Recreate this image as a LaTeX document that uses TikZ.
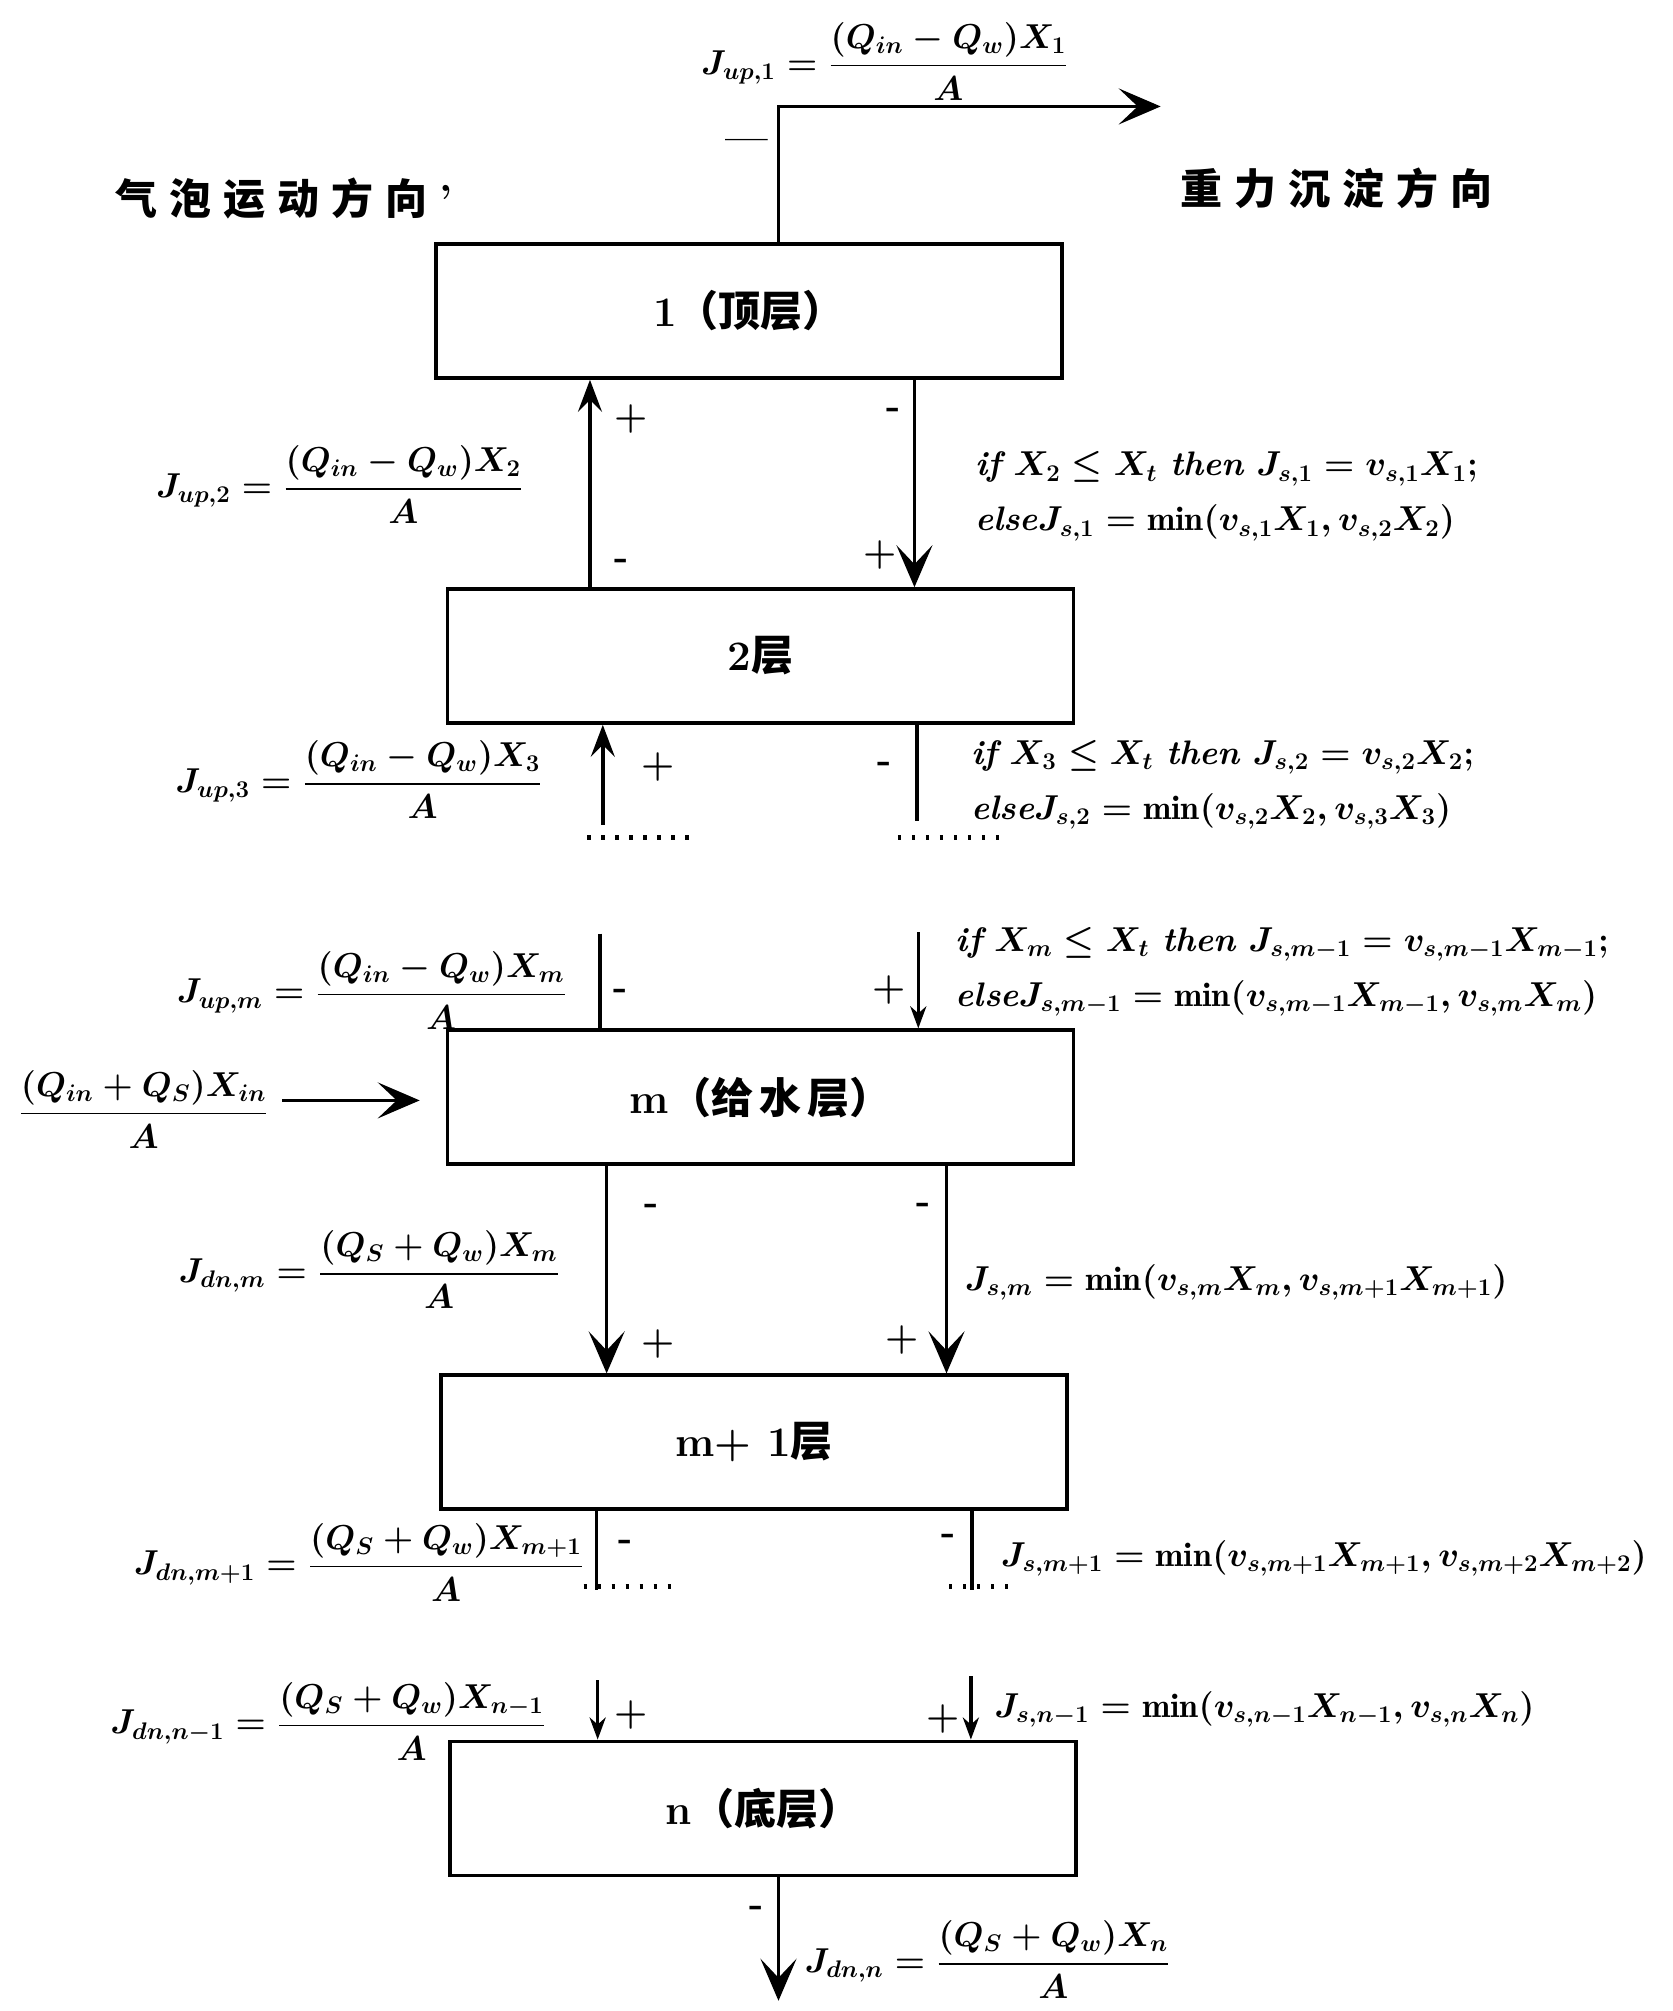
\documentclass[tikz,border=0pt]{standalone}
\usepackage{amsmath}
\usepackage{fontspec}
\newfontfamily\cjk{Noto Sans CJK SC}
\usetikzlibrary{arrows.meta}
\begin{document}
\begin{tikzpicture}[x=0.6412pt,y=-0.6412pt,
  box/.style={draw,line width=1.8pt,minimum width=313pt,minimum height=67pt,inner sep=0pt,font=\fontsize{21}{25}\selectfont\cjk\bfseries},
  flow/.style={line width=1.8pt,line join=miter},
  bigarr/.style={flow,-{Stealth[length=21pt,width=18pt,inset=9.5pt]}},
  midarr/.style={flow,-{Stealth[length=16pt,width=12pt,inset=6pt]}},
  smallarr/.style={flow,-{Stealth[length=11pt,width=8pt,inset=3.5pt]}},
  sign/.style={font=\fontsize{19}{19}\selectfont\bfseries,inner sep=0pt},
  eqn/.style={font=\fontsize{17.5}{20}\selectfont\bfseries\boldmath,inner sep=0pt},
  cond/.style={font=\fontsize{17}{27.5}\selectfont\bfseries\boldmath,inner sep=0pt,align=left,anchor=west},
  dotrow/.style={line width=2.4pt,dash pattern=on 1.6pt off 5.4pt},
  dirlabel/.style={font=\fontsize{21}{25}\selectfont\cjk\bfseries,inner sep=0pt}
]
\fill[white] (0,0) rectangle (1304,1568);
\useasboundingbox (0,0) rectangle (1304,1568);

% boxes
\node[box] (b1) at (584,242.5) {{\rmfamily\bfseries 1}（顶层）};
\node[box] (b2) at (593,511.5) {{\rmfamily\bfseries 2}层};
\node[box] (bm) at (593,855.5) {{\rmfamily\bfseries m}（给\hspace{3pt}水\hspace{3pt}层）};
\node[box] (bm1) at (588,1124.5) {{\rmfamily\bfseries m+ 1}层};
\node[box] (bn) at (595,1410) {{\rmfamily\bfseries n}（底层）};

% direction labels
\node[dirlabel,anchor=west] (dl) at (90,155) {气\hspace{6pt}泡\hspace{6pt}运\hspace{6pt}动\hspace{6pt}方\hspace{6pt}向\hspace{6pt}{\rmfamily\bfseries '}};
\node[dirlabel,anchor=west] (dr) at (920,147) {重\hspace{6pt}力\hspace{6pt}沉\hspace{6pt}淀\hspace{6pt}方\hspace{6pt}向};

% top outflow
\coordinate (tc) at (607,83);
\coordinate (tend) at (905,83);
\draw[bigarr] (b1.north -| tc) -- (tc) -- (tend);
\node[eqn] (j1) at (690,48) {$J_{up,1}=\dfrac{(Q_{in}-Q_w)X_1}{A}$};
\node[sign] (s0) at (582,113) {—};

% between 1 and 2
\coordinate (c1L) at (460,0);
\coordinate (c1R) at (713,0);
\draw[midarr] (b2.north -| c1L) -- (b1.south -| c1L);
\draw[bigarr] (b1.south -| c1R) -- (b2.north -| c1R);
\node[sign] (s1) at (492,327) {+};
\node[sign] (s2) at (485,440) {-};
\node[sign] (s3) at (697,322) {-};
\node[sign] (s4) at (686,433) {+};
\node[eqn] (j2) at (265,378) {$J_{up,2}=\dfrac{(Q_{in}-Q_w)X_2}{A}$};
\node[cond] (k1) at (760,387) {$\textit{if}\ X_2\le X_t\ \textit{then}\ J_{s,1}=v_{s,1}X_1;$\\$\textit{else}J_{s,1}=\min(v_{s,1}X_1,v_{s,2}X_2)$};

% below 2
\coordinate (e2L) at (470,643);
\coordinate (e2R) at (715,640);
\draw[midarr] (e2L) -- (b2.south -| e2L);
\draw[flow] (b2.south -| e2R) -- (e2R);
\coordinate (d1a) at (458,653); \coordinate (d1b) at (540,653);
\coordinate (d2a) at (700,653); \coordinate (d2b) at (783,653);
\draw[dotrow] (d1a) -- (d1b);
\draw[dotrow] (d2a) -- (d2b);
\node[sign] (s5) at (513,598) {+};
\node[sign] (s6) at (690,598) {-};
\node[eqn] (j3) at (280,608) {$J_{up,3}=\dfrac{(Q_{in}-Q_w)X_3}{A}$};
\node[cond] (k2) at (757,612) {$\textit{if}\ X_3\le X_t\ \textit{then}\ J_{s,2}=v_{s,2}X_2;$\\$\textit{else}J_{s,2}=\min(v_{s,2}X_2,v_{s,3}X_3)$};

% above m
\coordinate (fmL) at (468,728);
\coordinate (fmR) at (716,727);
\draw[flow] (fmL) -- (bm.north -| fmL);
\draw[smallarr] (fmR) -- (bm.north -| fmR);
\node[sign] (s7) at (484,775) {-};
\node[sign] (s8) at (693,772) {+};
\node[eqn] (jm) at (290,772) {$J_{up,m}=\dfrac{(Q_{in}-Q_w)X_m}{A}$};
\node[cond] (k3) at (745,758) {$\textit{if}\ X_m\le X_t\ \textit{then}\ J_{s,m-1}=v_{s,m-1}X_{m-1};$\\$\textit{else}J_{s,m-1}=\min(v_{s,m-1}X_{m-1},v_{s,m}X_m)$};

% feed
\node[eqn] (qin) at (112,865) {$\dfrac{(Q_{in}+Q_S)X_{in}}{A}$};
\coordinate (inA) at (220,858);
\draw[bigarr] (inA) -- ([xshift=-13pt]bm.west |- inA);

% between m and m+1
\coordinate (gL) at (473,0);
\coordinate (gR) at (738,0);
\draw[bigarr] (bm.south -| gL) -- (bm1.north -| gL);
\draw[bigarr] (bm.south -| gR) -- (bm1.north -| gR);
\node[sign] (s9) at (508,943) {-};
\node[sign] (s10) at (513,1048) {+};
\node[sign] (s11) at (720,942) {-};
\node[sign] (s12) at (703,1045) {+};
\node[eqn] (jdm) at (288,990) {$J_{dn,m}=\dfrac{(Q_S+Q_w)X_m}{A}$};
\node[cond] (k4) at (752,1000) {$J_{s,m}=\min(v_{s,m}X_m,v_{s,m+1}X_{m+1})$};

% below m+1
\coordinate (hL) at (465,1240);
\coordinate (hR) at (758,1240);
\draw[flow] (bm1.south -| hL) -- (hL);
\draw[flow] (bm1.south -| hR) -- (hR);
\coordinate (d3a) at (455,1237); \coordinate (d3b) at (530,1237);
\coordinate (d4a) at (740,1237); \coordinate (d4b) at (790,1237);
\draw[dotrow] (d3a) -- (d3b);
\draw[dotrow] (d4a) -- (d4b);
\node[sign] (s13) at (488,1205) {-};
\node[sign] (s14) at (740,1200) {-};
\node[eqn] (jdm1) at (280,1218) {$J_{dn,m+1}=\dfrac{(Q_S+Q_w)X_{m+1}}{A}$};
\node[cond] (k5) at (780,1215) {$J_{s,m+1}=\min(v_{s,m+1}X_{m+1},v_{s,m+2}X_{m+2})$};

% above n
\coordinate (iL) at (466,1310);
\coordinate (iR) at (757,1307);
\draw[smallarr] (iL) -- (bn.north -| iL);
\draw[smallarr] (iR) -- (bn.north -| iR);
\node[sign] (s15) at (492,1337) {+};
\node[sign] (s16) at (735,1340) {+};
\node[eqn] (jdn1) at (256,1342) {$J_{dn,n-1}=\dfrac{(Q_S+Q_w)X_{n-1}}{A}$};
\node[cond] (k6) at (775,1333) {$J_{s,n-1}=\min(v_{s,n-1}X_{n-1},v_{s,n}X_n)$};

% bottom outflow
\coordinate (nout) at (607,1560);
\draw[bigarr] (bn.south -| nout) -- (nout);
\node[sign] (s17) at (590,1490) {-};
\node[eqn] (jdn) at (770,1528) {$J_{dn,n}=\dfrac{(Q_S+Q_w)X_n}{A}$};
\end{tikzpicture}
\end{document}
